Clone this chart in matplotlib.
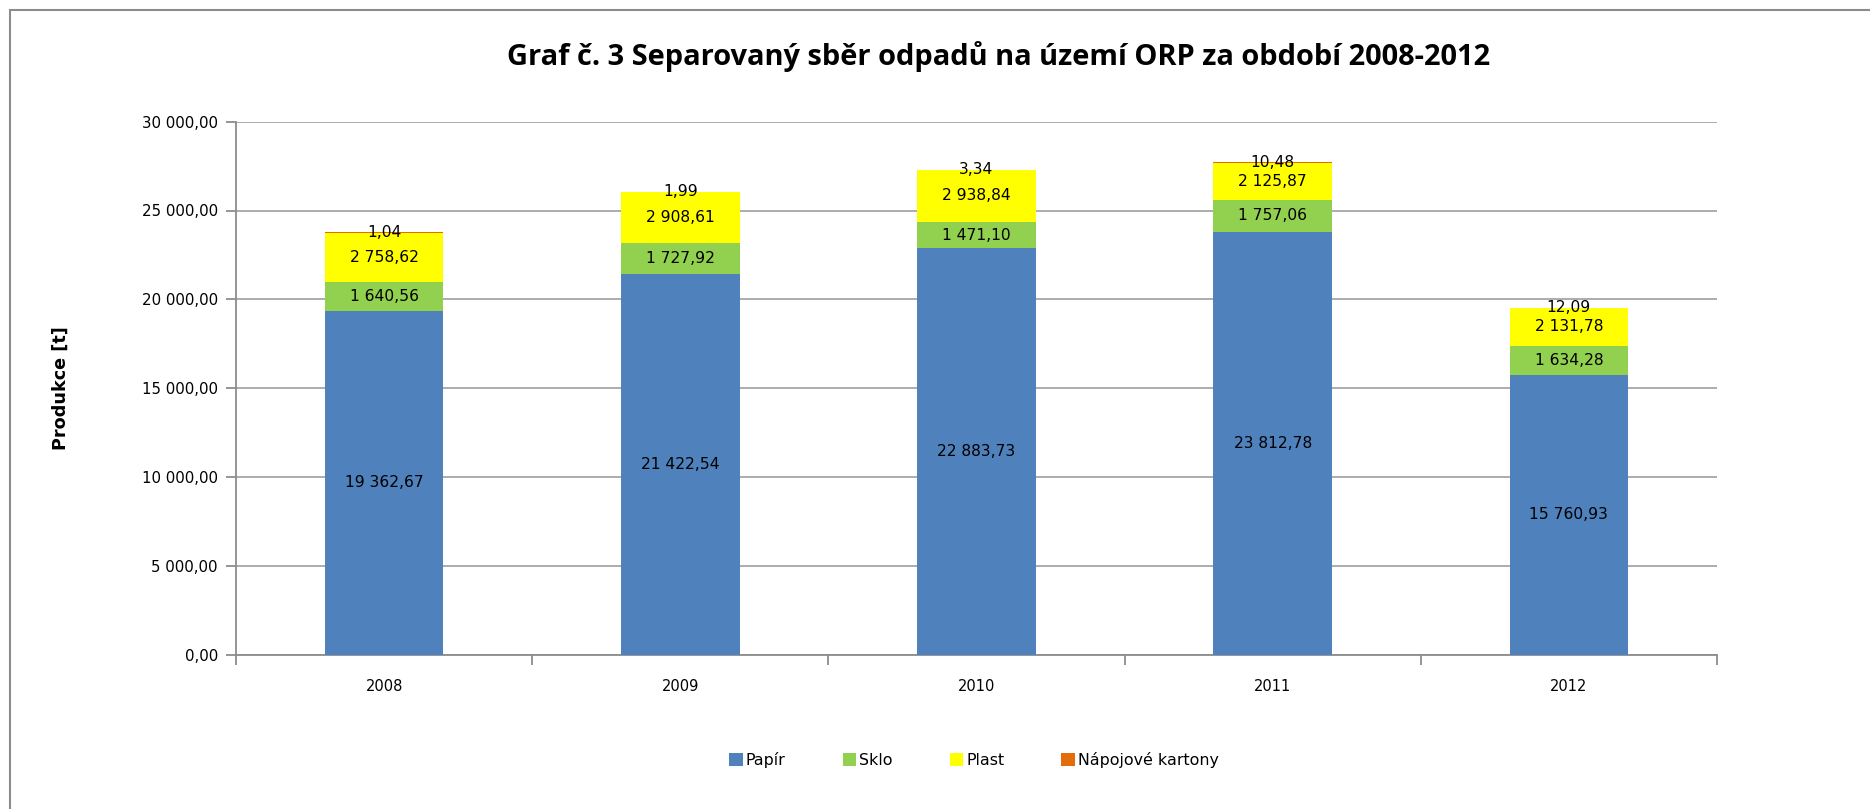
import matplotlib
matplotlib.use("Agg")
import matplotlib.pyplot as plt
from matplotlib.patches import Rectangle, Patch
from matplotlib.ticker import FuncFormatter, FixedLocator
import numpy as np

years = ["2008", "2009", "2010", "2011", "2012"]
series_names = ["Papír", "Sklo", "Plast", "Nápojové kartony"]
papir = [19362.67, 21422.54, 22883.73, 23812.78, 15760.93]
sklo = [1640.56, 1727.92, 1471.10, 1757.06, 1634.28]
plast = [2758.62, 2908.61, 2938.84, 2125.87, 2131.78]
kartony = [1.04, 1.99, 3.34, 10.48, 12.09]
colors = ["#4F81BD", "#92D050", "#FFFF00", "#E46C0A"]
title = "Graf č. 3 Separovaný sběr odpadů na území ORP za období 2008-2012"
ylabel = "Produkce [t]"


def fmt(v, pos=None):
    s = f"{v:,.2f}"
    return s.replace(",", " ").replace(".", ",")


W, H = 1870, 809
fig = plt.figure(figsize=(W / 100, H / 100), dpi=100)
fig.patch.set_facecolor("white")

# outer chart border (top and left visible)
fig.add_artist(Rectangle((10 / W, -0.1), 1.2, 1 - 10 / H + 0.1, transform=fig.transFigure,
                         fill=False, edgecolor="#8C8C8C", linewidth=1.5))

ax = fig.add_axes([236 / W, 1 - 655 / H, (1717 - 236) / W, (655 - 121.6) / H])
x = np.arange(len(years))
width = 0.4
bottom = np.zeros(len(years))
data = [papir, sklo, plast, kartony]
for name, vals, c in zip(series_names, data, colors):
    vals = np.array(vals)
    ax.bar(x, vals, width, bottom=bottom, color=c, label=name, zorder=3)
    for xi, b, v in zip(x, bottom, vals):
        ax.text(xi, b + v / 2, fmt(v), ha="center", va="center", fontsize=11.2,
                color="black", zorder=4)
    bottom = bottom + vals

ax.set_xlim(-0.5, len(years) - 0.5)
ax.set_ylim(0, 30000)
ax.yaxis.set_major_locator(FixedLocator(np.arange(0, 30001, 5000)))
ax.yaxis.set_major_formatter(FuncFormatter(fmt))
ax.set_xticks(x)
ax.set_xticklabels(years)
ax.set_xticks(np.arange(-0.5, len(years), 1.0), minor=True)
ax.tick_params(axis="x", which="major", length=0, pad=17, labelsize=10.5)
ax.tick_params(axis="x", which="minor", length=7, width=1.3, color="#8C8C8C")
ax.tick_params(axis="y", length=7, width=1.3, color="#8C8C8C", labelsize=10.8, pad=6)
ax.grid(axis="y", color="#A6A6A6", linewidth=1.3, zorder=0)
for s in ["top", "right"]:
    ax.spines[s].set_visible(False)
for s in ["left", "bottom"]:
    ax.spines[s].set_color("#8C8C8C")
    ax.spines[s].set_linewidth(1.3)

ax.set_ylabel(ylabel, fontsize=12.7, fontweight="bold")
ax.yaxis.set_label_coords(-166 / (1717 - 236), 0.5)

fig.text(999 / W, 1 - 57 / H, title, ha="center", va="center", fontsize=20.9,
         fontweight="bold", family="Open Sans")

handles = [Patch(facecolor=c, edgecolor="none") for c in colors]
fig.legend(handles, series_names, loc="center", bbox_to_anchor=(974 / W, 1 - 760 / H),
           ncol=4, frameon=False, fontsize=11.4, handlelength=0.85, handleheight=0.85,
           handletextpad=0.2, columnspacing=3.6)

fig.savefig("out.png", dpi=100)
